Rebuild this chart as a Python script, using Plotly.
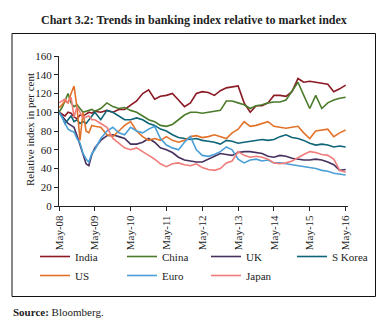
import plotly.graph_objects as go

# Dates: monthly for the first year, then every two months
dates = ["2008-05-01", "2008-06-01", "2008-07-01", "2008-08-01", "2008-09-01", "2008-10-01",
         "2008-11-01", "2008-12-01", "2009-01-01", "2009-02-01", "2009-03-01", "2009-04-01",
         "2009-05-01",
         "2009-07-01", "2009-09-01", "2009-11-01", "2010-01-01", "2010-03-01", "2010-05-01",
         "2010-07-01", "2010-09-01", "2010-11-01", "2011-01-01", "2011-03-01", "2011-05-01",
         "2011-07-01", "2011-09-01", "2011-11-01", "2012-01-01", "2012-03-01", "2012-05-01",
         "2012-07-01", "2012-09-01", "2012-11-01", "2013-01-01", "2013-03-01", "2013-05-01",
         "2013-07-01", "2013-09-01", "2013-11-01", "2014-01-01", "2014-03-01", "2014-05-01",
         "2014-07-01", "2014-09-01", "2014-11-01", "2015-01-01", "2015-03-01", "2015-05-01",
         "2015-07-01", "2015-09-01", "2015-11-01", "2016-01-01", "2016-03-01", "2016-05-01"]

india = [100, 98, 96, 100, 99, 95, 93, 97, 96, 98, 100, 99, 101,
         100, 102, 100, 103, 103, 108, 112, 120, 124, 114, 117, 118,
         120, 113, 106, 110, 120, 122, 121, 118, 123, 126, 127, 128,
         110, 100, 107, 107, 110, 118, 118, 117, 122, 136, 132, 133,
         132, 131, 130, 122, 125, 129]
china = [100, 105, 112, 120, 110, 106, 108, 104, 100, 101, 102, 103, 101,
         104, 110, 106, 104, 105, 102, 100, 96, 92, 90, 86, 85,
         87, 92, 97, 100, 100, 99, 100, 101, 102, 112, 112, 110,
         108, 104, 107, 108, 110, 111, 111, 113, 122, 132, 118, 104,
         118, 104, 110, 113, 115, 116]
uk = [100, 96, 92, 88, 86, 84, 75, 65, 55, 45, 43, 55, 62,
      70, 75, 76, 74, 72, 66, 66, 68, 72, 68, 62, 60,
      57, 52, 49, 48, 47, 47, 50, 53, 56, 55, 54, 57,
      58, 58, 57, 56, 53, 52, 54, 53, 51, 50, 49, 49,
      50, 49, 47, 44, 38, 39]
skorea = [100, 95, 88, 92, 96, 90, 92, 88, 90, 88, 92, 96, 100,
          92, 102, 100, 96, 92, 92, 94, 92, 88, 86, 82, 80,
          76, 73, 72, 71, 72, 70, 69, 68, 66, 70, 69, 67,
          68, 69, 70, 71, 70, 71, 74, 76, 73, 72, 70, 67,
          65, 66, 65, 63, 64, 63]
us = [105, 108, 112, 110, 120, 128, 105, 70, 100, 80, 78, 86, 85,
      84, 76, 74, 80, 86, 90, 80, 74, 70, 72, 70, 74,
      70, 68, 70, 74, 75, 73, 74, 76, 74, 72, 78, 82,
      90, 85, 86, 88, 90, 85, 84, 83, 84, 85, 78, 72,
      80, 81, 82, 74, 78, 81]
euro = [100, 95, 88, 82, 80, 79, 72, 67, 56, 50, 47, 56, 60,
        72, 80, 84, 78, 76, 84, 80, 78, 82, 85, 72, 65,
        62, 60, 68, 74, 60, 54, 53, 55, 58, 63, 60, 50,
        46, 49, 50, 48, 49, 46, 46, 45, 44, 43, 42, 41,
        40, 38, 37, 35, 34, 33]
japan = [110, 112, 114, 110, 116, 95, 106, 100, 94, 95, 96, 92, 92,
         88, 84, 72, 67, 62, 60, 62, 58, 54, 50, 45, 42,
         45, 46, 44, 43, 45, 41, 39, 38, 40, 46, 48, 58,
         54, 52, 53, 52, 50, 46, 45, 46, 48, 52, 55, 58,
         57, 55, 54, 50, 38, 36]

series_names = ["India", "China", "UK", "S Korea", "US", "Euro", "Japan"]
series_values = [india, china, uk, skorea, us, euro, japan]
series_colors = ["#8b1a24", "#4b7b2b", "#46305e", "#0e6577", "#e2722a", "#4b9fd8", "#f07c7a"]
# legend column for each series (4 columns, two rows)
series_legend = ["legend", "legend2", "legend3", "legend4", "legend", "legend2", "legend3"]

tick_vals = ["2008-05-01", "2009-05-01", "2010-05-01", "2011-05-01", "2012-05-01",
             "2013-05-01", "2014-05-01", "2015-05-01", "2016-05-01"]
tick_text = ["May-08", "May-09", "May-10", "May-11", "May-12", "May-13", "May-14", "May-15", "May-16"]

FONT = "Liberation Serif"

fig = go.Figure()
for name, vals, col, lg in zip(series_names, series_values, series_colors, series_legend):
    fig.add_trace(go.Scatter(x=dates, y=vals, name=name, mode="lines", legend=lg,
                             line=dict(color=col, width=1.6)))

W, H = 388, 327
L, R, T, B = 59, 40, 56, 121
pw, ph = W - L - R, H - T - B

def px(x):
    return (x - L) / pw

def py(y):
    return (H - B - y) / ph

def legend_at(xpix):
    return dict(orientation="v", x=px(xpix), y=py(242), xanchor="left", yanchor="top",
                font=dict(size=11, family=FONT, color="#222"), itemwidth=30,
                bgcolor="rgba(0,0,0,0)", borderwidth=0, tracegroupgap=0)

fig.update_layout(
    width=W, height=H,
    margin=dict(l=L, r=R, t=T, b=B, autoexpand=False),
    paper_bgcolor="white", plot_bgcolor="white",
    font=dict(family=FONT, size=11, color="#222"),
    showlegend=True,
    legend=legend_at(35),
    legend2=legend_at(122),
    legend3=legend_at(206),
    legend4=legend_at(292),
    xaxis=dict(type="date", range=["2008-05-01", "2016-05-25"],
               tickvals=tick_vals, ticktext=tick_text, tickangle=-90,
               showgrid=False, zeroline=False, showline=True, linecolor="#222", linewidth=1,
               ticks="outside", ticklen=4, tickcolor="#222", tickfont=dict(size=11, family=FONT)),
    yaxis=dict(range=[0, 160], dtick=20, showgrid=False, zeroline=False,
               showline=True, linecolor="#222", linewidth=1,
               ticks="outside", ticklen=4, tickcolor="#222", tickfont=dict(size=11, family=FONT)),
)

fig.add_shape(type="rect", xref="paper", yref="paper",
              x0=px(12), x1=px(375.5), y0=py(296.5), y1=py(33.5),
              line=dict(color="#111", width=1), layer="above")

fig.add_annotation(text="<b>Chart 3.2: Trends in banking index relative to market index</b>",
                   xref="paper", yref="paper", x=px(194), y=py(20), xanchor="center", yanchor="middle",
                   showarrow=False, font=dict(size=12, family=FONT, color="#222"))
fig.add_annotation(text="Relative index in per cent", textangle=-90,
                   xref="paper", yref="paper", x=px(30), y=py(130), xanchor="center", yanchor="middle",
                   showarrow=False, font=dict(size=11, family=FONT, color="#222"))
fig.add_annotation(text="<b>Source:</b> Bloomberg.",
                   xref="paper", yref="paper", x=px(11), y=py(312), xanchor="left", yanchor="middle",
                   showarrow=False, font=dict(size=11, family=FONT, color="#222"))

fig.write_html("out.html")
